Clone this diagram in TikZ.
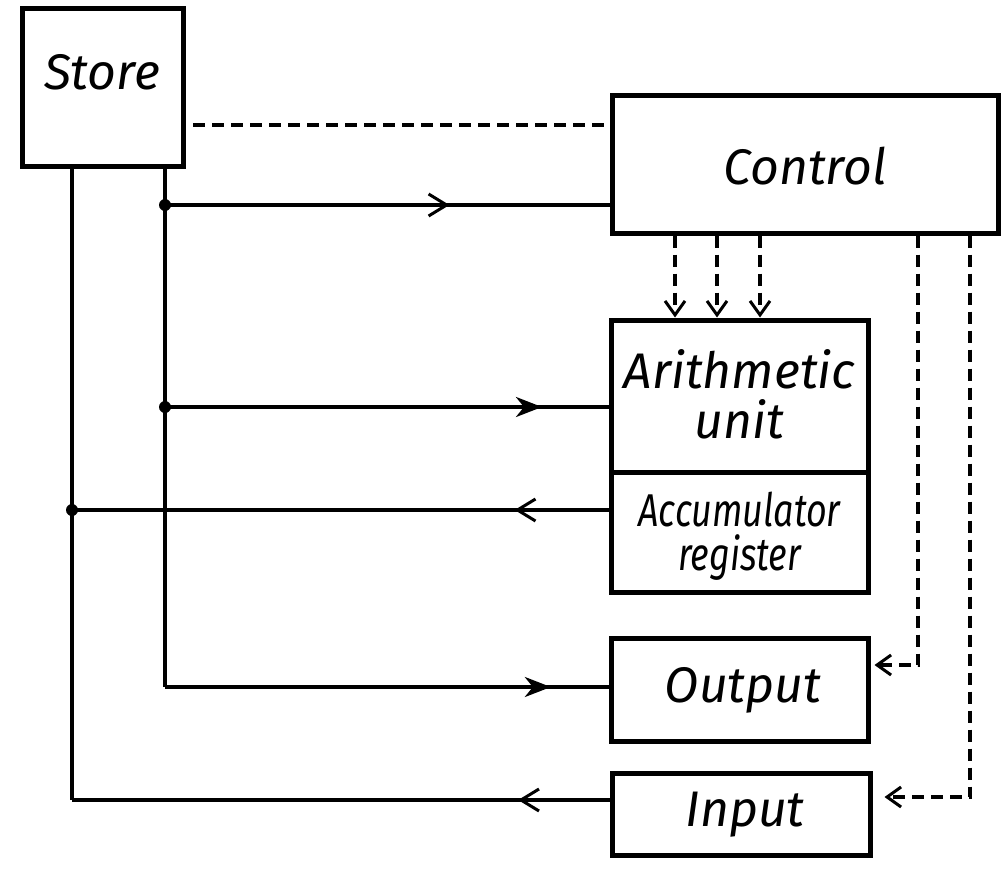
\documentclass[tikz,border=0pt]{standalone}
\usepackage{fontspec}
\setmainfont{Fira Sans}
\newfontfamily\narrowfont[FakeStretch=0.78]{Fira Sans}
\usetikzlibrary{arrows.meta,decorations.markings}
\begin{document}
\begin{tikzpicture}[x=1pt,y=-1pt,
  box/.style={draw,line width=5pt,minimum width=#1,inner sep=0pt},
  lbl/.style={font=\itshape\fontsize{50}{56}\selectfont,inner sep=0pt},
  slbl/.style={font=\narrowfont\itshape\fontsize{46}{46}\selectfont,inner sep=0pt},
  wire/.style={line width=3.5pt},
  dwire/.style={line width=3.5pt,dash pattern=on 12pt off 7pt},
  dot/.style={circle,fill,inner sep=0pt,minimum size=12pt},
  openarr/.style={postaction={decorate},decoration={markings,mark=at position #1 with {\arrow{Straight Barb[length=18pt,width=22pt,line width=3pt]}}}},
  fillarr/.style={postaction={decorate},decoration={markings,mark=at position #1 with {\arrow{Stealth[length=26pt,width=20pt,inset=8pt]}}}},
  dhead/.style={-{Straight Barb[length=14pt,width=20pt,line width=3pt]}}
]
\useasboundingbox (0,0) rectangle (1005,871);
% boxes
\node[box=161pt,minimum height=158pt] (store) at (102.5,87) {};
\node[lbl] (storeL) at (102,72) {Store};
\node[box=386pt,minimum height=138pt] (ctrl) at (805,164) {};
\node[lbl] (ctrlL) at (805,166) {Control};
\node[box=257pt,minimum height=152pt] (arith) at (739.5,396) {};
\node[lbl,align=center] (arithL) at (739.5,394) {Arithmetic\\[-6pt]unit};
\node[box=257pt,minimum height=120pt] (acc) at (739.5,532) {};
\node[slbl,anchor=base] (accL1) at (739.5,526) {Accumulator};
\node[slbl,anchor=base] (accL2) at (739.5,570) {register};
\node[box=257pt,minimum height=103pt] (out) at (739.5,689.5) {};
\node[lbl] (outL) at (743,690) {Output};
\node[box=258pt,minimum height=82pt] (inp) at (741,814) {};
\node[lbl] (inpL) at (745,815) {Input};
% bus coordinates
\coordinate (xa) at (72,0);
\coordinate (xb) at (165,0);
\node[dot] (d1) at (165,205) {};
\node[dot] (d2) at (165,407) {};
\node[dot] (d3) at (72,510) {};
\coordinate (cOut) at (165,687);
\coordinate (cIn) at (72,800);
% bus lines
\draw[wire] (store.south -| xb) -- (cOut);
\draw[wire] (store.south -| xa) -- (cIn);
% connectors
\draw[wire,openarr=0.64] (d1.center) -- (d1 -| ctrl.west);
\draw[wire,fillarr=0.85] (d2.center) -- (d2 -| arith.west);
\draw[wire,openarr=0.175] (d3 -| acc.west) -- (d3.center);
\draw[wire,fillarr=0.87] (cOut) -- (cOut -| out.west);
\draw[wire,openarr=0.17] (cIn -| inp.west) -- (cIn);
% dashed
\coordinate (dl) at (193,125);
\draw[dwire] (dl) -- (dl -| ctrl.west);
\foreach \x/\n in {675/a,717/b,760/c}{
  \coordinate (t\n) at (\x,0);
  \draw[dwire,dhead] (ctrl.south -| t\n) -- (arith.north -| t\n);
}
\coordinate (r1) at (918,665);
\coordinate (r2) at (970,797);
\draw[dwire,dhead,shorten >=4pt] (ctrl.south -| r1) -- (r1) -- (r1 -| out.east);
\draw[dwire,dhead,shorten >=12pt] (ctrl.south -| r2) -- (r2) -- (r2 -| inp.east);
\end{tikzpicture}
\end{document}
